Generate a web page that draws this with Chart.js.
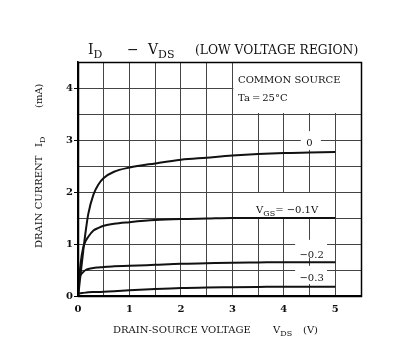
<!DOCTYPE html>
<html>
<head>
<meta charset="utf-8">
<script src="https://cdn.jsdelivr.net/npm/chart.js@4"></script>
<style>
html,body{margin:0;padding:0;background:#fff;}
canvas{display:block;}
</style>
</head>
<body>
<canvas id="c" width="399" height="347"></canvas>
<script>
// ---- data ----
const vds = [0, 0.02, 0.05, 0.1, 0.15, 0.2, 0.3, 0.4, 0.5, 0.7, 1.0, 1.5, 2.0, 2.5, 3.0, 3.5, 4.0, 4.5, 5.0];
const idVgs0    = [0, 0.15, 0.42, 0.85, 1.25, 1.58, 1.95, 2.15, 2.27, 2.39, 2.47, 2.55, 2.62, 2.66, 2.70, 2.73, 2.75, 2.76, 2.77];
const idVgsM01  = [0, 0.30, 0.62, 0.93, 1.06, 1.14, 1.26, 1.31, 1.35, 1.39, 1.42, 1.46, 1.48, 1.49, 1.50, 1.50, 1.50, 1.50, 1.50];
const idVgsM02  = [0, 0.30, 0.40, 0.46, 0.50, 0.52, 0.54, 0.55, 0.56, 0.57, 0.58, 0.60, 0.62, 0.63, 0.64, 0.645, 0.65, 0.65, 0.65];
const idVgsM03  = [0, 0.05, 0.055, 0.06, 0.065, 0.07, 0.075, 0.078, 0.08, 0.09, 0.11, 0.135, 0.155, 0.165, 0.17, 0.175, 0.18, 0.18, 0.18];
const xTickLabels = ['0', '1', '2', '3', '4', '5'];
const yTickLabels = ['0', '1', '2', '3', '4'];
const curveLabels = ['0', '\u22120.2', '\u22120.3'];
const curveLabelX = [4.50, 4.54, 4.54];
const curveLabelY = [2.955, 0.81, 0.37];

const SERIF = '"DejaVu Serif", "Liberation Serif", serif';

function pts(ys) { return vds.map((x, i) => ({ x: x, y: ys[i] })); }
function ds(ys) {
  return { data: pts(ys), borderColor: '#111', borderWidth: 2, pointRadius: 0,
           fill: false, cubicInterpolationMode: 'monotone' };
}

// draw a sequence of [text, isSub] parts starting at x, baseline y
function drawParts(ctx, parts, x, y, size) {
  let cx = x;
  parts.forEach(p => {
    const sub = p[1];
    ctx.font = (sub ? Math.round(size * 0.8) : size) + 'px ' + SERIF;
    ctx.fillText(p[0], cx, sub ? y + size * 0.28 : y);
    cx += ctx.measureText(p[0]).width;
  });
  return cx;
}

const annot = {
  id: 'annot',
  beforeDatasetsDraw(chart) {
    const ctx = chart.ctx, xs = chart.scales.x, ys = chart.scales.y;
    const X = v => xs.getPixelForValue(v), Y = v => ys.getPixelForValue(v);
    ctx.save();
    ctx.fillStyle = '#fff';
    // conditions box in the upper right
    ctx.fillRect(X(3.0) + 1, Y(4.5), X(5.5) - X(3.0) - 1, Y(3.5) - Y(4.5) - 1);
    // background under curve labels
    ctx.fillRect(X(4.33), Y(3.17), X(4.72) - X(4.33), Y(2.81) - Y(3.17));
    ctx.fillRect(X(3.35), Y(2.0) + 1, X(4.90) - X(3.35), Y(1.5) - Y(2.0) - 2);
    ctx.fillRect(X(4.22), Y(1.08), X(4.84) - X(4.22), Y(0.73) - Y(1.08));
    ctx.fillRect(X(4.22), Y(0.58), X(4.84) - X(4.22), Y(0.23) - Y(0.58));
    ctx.restore();
  },
  afterDraw(chart) {
    const ctx = chart.ctx, xs = chart.scales.x, ys = chart.scales.y, a = chart.chartArea;
    const X = v => xs.getPixelForValue(v), Y = v => ys.getPixelForValue(v);
    ctx.save();
    // frame
    ctx.strokeStyle = '#000';
    ctx.lineWidth = 1.5;
    ctx.strokeRect(Math.round(a.left) + 0.5, Math.round(a.top) + 0.5,
                   Math.round(a.right - a.left), Math.round(a.bottom - a.top));
    ctx.fillStyle = '#111';
    ctx.textBaseline = 'alphabetic';
    ctx.textAlign = 'left';
    // title
    drawParts(ctx, [['I', false], ['D', true]], 88, 54, 14);
    ctx.font = '14px ' + SERIF;
    ctx.fillText('\u2212', 127, 54);
    drawParts(ctx, [['V', false], ['DS', true]], 148, 54, 14);
    ctx.font = '12.3px ' + SERIF;
    ctx.fillText('(LOW VOLTAGE REGION)', 195, 54);
    // conditions box
    ctx.font = '10px ' + SERIF;
    ctx.fillText('COMMON SOURCE', X(3.11), Y(4.17) + 4);
    ctx.fillText('Ta\u2009=\u200925\u00b0C', X(3.11), Y(3.83) + 4);
    // curve labels
    ctx.textAlign = 'center';
    for (let i = 0; i < curveLabels.length; i++) {
      ctx.font = '10px ' + SERIF;
      ctx.fillText(curveLabels[i], X(curveLabelX[i]), Y(curveLabelY[i]) + 4);
    }
    ctx.textAlign = 'left';
    drawParts(ctx, [['V', false], ['GS', true], ['= \u22120.1V', false]], X(3.46), Y(1.67) + 4, 10);
    // x axis title
    drawParts(ctx, [['DRAIN-SOURCE VOLTAGE', false]], 113, 333, 10);
    drawParts(ctx, [['V', false], ['DS', true]], 273, 333, 10);
    drawParts(ctx, [['(V)', false]], 303, 333, 10);
    // y axis title
    ctx.translate(42, 248);
    ctx.rotate(-Math.PI / 2);
    drawParts(ctx, [['DRAIN CURRENT', false]], 0, 0, 10);
    drawParts(ctx, [['I', false], ['D', true]], 101, 0, 10);
    drawParts(ctx, [['(mA)', false]], 140, 0, 10);
    ctx.restore();
  }
};

const gridColor = '#444';

new Chart(document.getElementById('c'), {
  type: 'line',
  data: { datasets: [ds(idVgs0), ds(idVgsM01), ds(idVgsM02), ds(idVgsM03)] },
  options: {
    responsive: false,
    devicePixelRatio: 1,
    animation: false,
    layout: { padding: { top: 62, right: 38, left: 0, bottom: 0 } },
    plugins: { legend: { display: false }, title: { display: false }, tooltip: { enabled: false } },
    scales: {
      x: {
        type: 'linear', min: 0, max: 5.5,
        afterFit: s => { s.height = 51; },
        ticks: {
          stepSize: 0.5, autoSkip: false, maxRotation: 0, padding: 7,
          color: '#111', font: { family: SERIF, size: 10, weight: 'bold' },
          callback: v => (Number.isInteger(v) && v < xTickLabels.length) ? xTickLabels[v] : ''
        },
        grid: { color: gridColor, lineWidth: 1, drawTicks: false },
        border: { color: '#000', width: 1.5 }
      },
      y: {
        type: 'linear', min: 0, max: 4.5,
        afterFit: s => { s.width = 78; },
        ticks: {
          stepSize: 0.5, autoSkip: false, padding: 1,
          color: '#111', font: { family: SERIF, size: 10, weight: 'bold' },
          callback: v => (Number.isInteger(v) && v < yTickLabels.length) ? yTickLabels[v] : ''
        },
        grid: {
          color: gridColor, lineWidth: 1, drawTicks: true, tickLength: 4,
          tickColor: c => (c.tick && Number.isInteger(c.tick.value)) ? '#000' : 'rgba(0,0,0,0)'
        },
        border: { color: '#000', width: 1.5 }
      }
    }
  },
  plugins: [annot]
});
</script>
</body>
</html>
